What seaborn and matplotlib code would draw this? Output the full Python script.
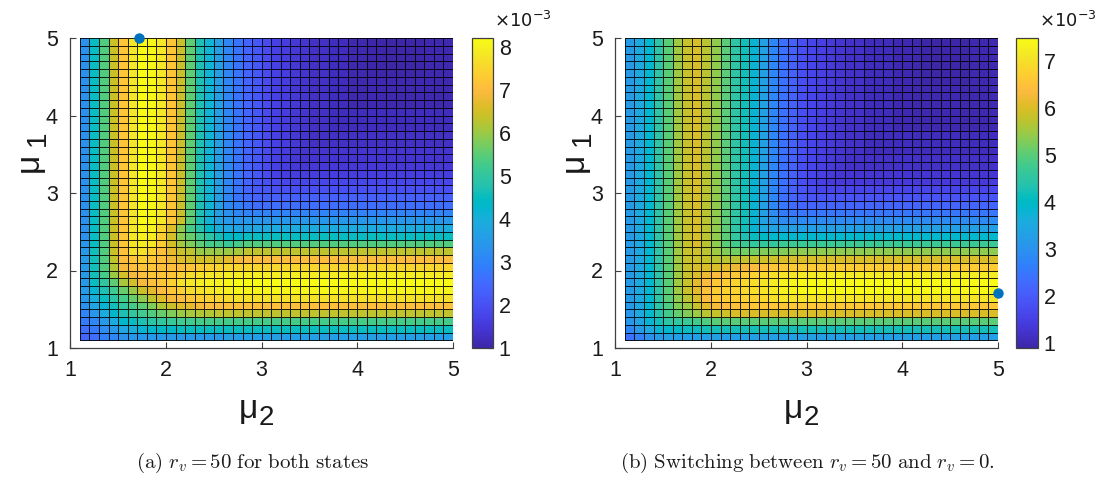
import numpy as np
import pandas as pd
import matplotlib
matplotlib.use("Agg")
import matplotlib.pyplot as plt
import seaborn as sns
from matplotlib.colors import LinearSegmentedColormap

# ---------------- data (values in units of 1e-4) ----------------
MU_START = 1.1          # first grid node of mu_1 / mu_2
MU_STEP = 0.1           # grid spacing
MU_TICKS = [1, 2, 3, 4, 5]
CBAR_TICKS_A = [1, 2, 3, 4, 5, 6, 7, 8]
CBAR_TICKS_B = [1, 2, 3, 4, 5, 6, 7]

# profile along mu_2 for large mu_1 (panel a)
G_TOP_A = [33, 45, 54, 64, 72, 78, 82, 81, 78, 72, 64, 55, 47, 41, 36, 31, 27, 24, 21, 19,
           17, 16, 15, 14, 13, 13, 12, 12, 11, 11, 10, 10, 10, 10, 10, 10, 11, 11, 11]

# rows: mu_1 = 1.1 (first) ... 4.9 (last); columns: mu_2 = 1.1 ... 4.9
A_ROWS = [
    [24, 26, 29, 31, 33, 34, 34, 35, 35, 35, 35, 35, 35, 35, 35, 36, 36, 36] + [36] * 21,
    [26, 28, 32, 35, 38, 40, 42, 43, 44, 44, 45, 45, 45, 45, 45, 45, 45, 45] + [45] * 21,
    [28, 31, 35, 39, 43, 45, 47, 49, 50, 51, 52, 52, 53, 53, 53, 53, 53, 53] + [53] * 21,
    [30, 34, 39, 43, 47, 50, 52, 54, 56, 58, 60, 61, 62, 62, 63, 63, 63, 63] + [63] * 21,
    [33, 38, 42, 46, 50, 53, 55, 58, 62, 64, 66, 67, 69, 70, 70, 71, 71, 71] + [71] * 21,
    [34, 40, 45, 49, 53, 56, 59, 63, 66, 69, 70, 72, 73, 74, 75, 76, 77, 77] + [77] * 21,
    [35, 42, 47, 52, 56, 60, 64, 67, 70, 72, 74, 76, 77, 78, 79, 80, 81, 81] + [81] * 21,
    [35, 45, 50, 55, 61, 65, 69, 71, 72, 74, 77, 78, 79, 80, 80, 81, 82, 82] + [82] * 21,
    [35, 46, 53, 60, 65, 69, 71, 72, 72, 72, 74, 76, 77, 78, 78, 79, 79, 79] + [79] * 21,
    [35, 46, 54, 62, 69, 71, 72, 72, 71, 71, 71, 72, 73, 74, 75, 75, 75, 75] + [75] * 21,
    [35, 46, 54, 63, 70, 72, 74, 72, 71, 68, 66, 65, 65, 65, 65, 67, 69, 70] + [70] * 21,
    [34, 46, 54, 64, 71, 77, 77, 74, 71, 67, 64, 63, 60, 60, 60, 60, 61, 63] + [63] * 21,
    [34, 45, 54, 64, 72, 78, 79, 78, 73, 65, 61, 58, 55, 53, 53, 51, 53, 54] + [54] * 21,
    [33, 45, 54, 64, 72, 78, 80, 79, 73, 65, 59, 56, 52, 49, 46, 44, 44, 45] + [45] * 21,
    [33, 45, 54, 64, 72, 78, 81, 80, 75, 66, 59, 53, 48, 44, 40, 38, 37, 37, 38, 39] + [39] * 19,
    G_TOP_A[:14] + [37, 35] + [34] * 23,
    G_TOP_A[:15] + [33, 31] + [30] * 22,
    G_TOP_A[:16] + [29, 27] + [26] * 21,
    G_TOP_A[:17] + [26, 24] + [23] * 20,
    G_TOP_A[:18] + [22, 21] + [20] * 19,
    G_TOP_A[:19] + [20, 19] + [18] * 18,
    G_TOP_A[:21] + [16] * 18,
    G_TOP_A[:22] + [15] * 17,
    G_TOP_A[:23] + [14] * 16,
    G_TOP_A[:23] + [14] * 16,
    G_TOP_A[:24] + [13] * 15,
    G_TOP_A[:24] + [13] * 15,
    G_TOP_A[:26] + [12] * 13,
    G_TOP_A[:26] + [12] * 13,
    G_TOP_A[:26] + [12] * 13,
    G_TOP_A[:28] + [11] * 11,
    G_TOP_A[:28] + [11] * 11,
    G_TOP_A[:28] + [11] * 11,
    G_TOP_A[:28] + [11] * 11,
    G_TOP_A[:],
    G_TOP_A[:],
    G_TOP_A[:],
    G_TOP_A[:],
    G_TOP_A[:],
]

# profile along mu_2 for large mu_1 (panel b)
G_TOP_B = [32, 35, 39, 45, 50, 55, 58, 60, 57, 54, 50, 45, 42, 38, 33, 28, 24, 21, 18, 16,
           15, 14, 13, 12, 12, 11, 11, 11, 10, 10, 10, 9, 9, 9, 9, 9, 10, 10, 10]

B_ROWS = [
    [24, 27, 30, 32] + [33] * 35,
    [28, 32, 35, 38, 39, 40, 41, 41] + [42] * 31,
    [31, 34, 38, 42, 45, 46, 47, 48, 49] + [50] * 30,
    [31, 35, 39, 44, 48, 51, 53, 55, 57, 58, 59] + [60] * 28,
    [32, 35, 39, 45, 49, 53, 55, 58, 61, 63, 64, 65, 65] + [66] * 26,
    [32, 35, 39, 45, 50, 54, 57, 60, 64, 66, 67, 67, 68, 68, 69, 70] + [71] * 23,
    [32, 35, 39, 45, 50, 55, 58, 61, 65, 67, 68, 68, 69, 70, 71, 72, 73, 74] + [75] * 21,
    [32, 35, 39, 45, 50, 55, 58, 61, 64, 66, 67, 68, 69, 70, 71, 72, 73, 74] + [75] * 21,
    [32, 35, 39, 45, 50, 55, 58, 60, 62, 64, 65, 66, 67, 68, 69, 70, 71, 71] + [72] * 21,
    [32, 35, 39, 45, 50, 55, 58, 60, 60, 60, 61, 62, 63, 64, 65, 66, 66, 67] + [67] * 21,
    [32, 35, 39, 45, 50, 55, 58, 59, 58, 57, 57, 57, 58, 58, 59, 59, 60, 60] + [60] * 21,
    [32, 35, 39, 45, 50, 55, 58, 59, 57, 55, 53, 52, 52, 52, 53, 53, 53, 54] + [54] * 21,
    [32, 35, 39, 45, 50, 55, 58, 60, 57, 54, 50, 48, 47, 46, 46, 46, 47, 47] + [47] * 21,
    [32, 35, 39, 45, 50, 55, 58, 60, 57, 54, 50, 46, 43, 41, 40, 39, 39, 39] + [39] * 21,
    [32, 35, 39, 45, 50, 55, 58, 60, 57, 54, 50, 45, 42, 38, 35, 34, 33, 33] + [33] * 21,
    G_TOP_B[:14] + [34, 31] + [29] * 23,
    G_TOP_B[:15] + [29, 26] + [25] * 22,
    G_TOP_B[:16] + [25, 23] + [22] * 21,
    G_TOP_B[:17] + [22, 20] + [19] * 20,
    G_TOP_B[:18] + [19, 17] + [16] * 19,
    G_TOP_B[:19] + [16, 15] + [14] * 18,
    G_TOP_B[:23] + [13] * 16,
    G_TOP_B[:25] + [12] * 14,
    G_TOP_B[:25] + [12] * 14,
    G_TOP_B[:28] + [11] * 11,
    G_TOP_B[:28] + [11] * 11,
    G_TOP_B[:28] + [11] * 11,
    G_TOP_B[:31] + [10] * 8,
    G_TOP_B[:31] + [10] * 8,
    G_TOP_B[:31] + [10] * 8,
    G_TOP_B[:31] + [10] * 8,
    G_TOP_B[:31] + [10] * 8,
    G_TOP_B[:31] + [10] * 8,
    G_TOP_B[:],
    G_TOP_B[:],
    G_TOP_B[:],
    G_TOP_B[:],
    G_TOP_B[:],
    G_TOP_B[:],
]

# marked optimum points (mu_2, mu_1)
DOT_A = (1.72, 5.0)
DOT_B = (5.0, 1.71)

CAPTION_A = r'$\mathrm{(a)}\ r_v = 50\ \mathrm{for\ both\ states}$'
CAPTION_B = r'$\mathrm{(b)\ Switching\ between}\ r_v = 50\ \mathrm{and}\ r_v = 0.$'

# ---------------- colormap (MATLAB parula, 64 entries) ----------------
PARULA = [
    (0.2422, 0.1504, 0.6603), (0.2504, 0.1650, 0.7076), (0.2578, 0.1818, 0.7511), (0.2647, 0.1978, 0.7952),
    (0.2706, 0.2147, 0.8364), (0.2751, 0.2342, 0.8710), (0.2783, 0.2559, 0.8991), (0.2803, 0.2782, 0.9221),
    (0.2813, 0.3006, 0.9414), (0.2810, 0.3228, 0.9579), (0.2795, 0.3447, 0.9717), (0.2760, 0.3667, 0.9829),
    (0.2699, 0.3892, 0.9906), (0.2602, 0.4123, 0.9952), (0.2440, 0.4358, 0.9988), (0.2206, 0.4603, 0.9973),
    (0.1963, 0.4847, 0.9892), (0.1834, 0.5074, 0.9798), (0.1786, 0.5289, 0.9682), (0.1764, 0.5499, 0.9520),
    (0.1687, 0.5703, 0.9359), (0.1540, 0.5902, 0.9218), (0.1460, 0.6091, 0.9079), (0.1380, 0.6276, 0.8973),
    (0.1248, 0.6459, 0.8883), (0.1113, 0.6635, 0.8763), (0.0952, 0.6798, 0.8598), (0.0689, 0.6948, 0.8394),
    (0.0297, 0.7082, 0.8163), (0.0036, 0.7203, 0.7917), (0.0067, 0.7312, 0.7660), (0.0433, 0.7411, 0.7394),
    (0.0964, 0.7500, 0.7120), (0.1408, 0.7584, 0.6842), (0.1717, 0.7670, 0.6554), (0.1938, 0.7758, 0.6251),
    (0.2161, 0.7843, 0.5923), (0.2470, 0.7918, 0.5567), (0.2906, 0.7973, 0.5188), (0.3406, 0.8008, 0.4789),
    (0.3909, 0.8029, 0.4354), (0.4456, 0.8024, 0.3909), (0.5044, 0.7993, 0.3480), (0.5616, 0.7942, 0.3045),
    (0.6174, 0.7876, 0.2612), (0.6720, 0.7793, 0.2227), (0.7242, 0.7698, 0.1910), (0.7738, 0.7598, 0.1646),
    (0.8203, 0.7498, 0.1535), (0.8634, 0.7406, 0.1596), (0.9035, 0.7330, 0.1774), (0.9393, 0.7288, 0.2100),
    (0.9728, 0.7298, 0.2394), (0.9956, 0.7434, 0.2371), (0.9970, 0.7659, 0.2199), (0.9952, 0.7893, 0.2028),
    (0.9892, 0.8136, 0.1885), (0.9786, 0.8386, 0.1766), (0.9676, 0.8639, 0.1643), (0.9610, 0.8890, 0.1537),
    (0.9597, 0.9135, 0.1423), (0.9628, 0.9373, 0.1265), (0.9691, 0.9606, 0.1064), (0.9769, 0.9839, 0.0805),
]
parula = LinearSegmentedColormap.from_list("parula", PARULA, N=256)

# ---------------- style ----------------
sns.set_style("white")
plt.rcParams['font.family'] = ['Liberation Sans', 'DejaVu Sans']

W, H = 1100, 479
fig = plt.figure(figsize=(W / 100, H / 100), dpi=100)


def box(x0, y0, x1, y1):
    return [x0 / W, 1 - y1 / H, (x1 - x0) / W, (y1 - y0) / H]


def to_idx(mu):
    return (np.asarray(mu, dtype=float) - MU_START) / MU_STEP


AXIS_COLOR = '0.25'


def panel(rows, ax_box, cax_box, cticks, dot, caption, cap_x, lab_x):
    ax = fig.add_axes(box(*ax_box))
    cax = fig.add_axes(box(*cax_box))
    Z = np.array(rows, dtype=float) / 10.0   # units of 1e-3
    df = pd.DataFrame(Z)
    sns.heatmap(df, ax=ax, cmap=parula, vmin=Z.min(), vmax=Z.max(), cbar_ax=cax,
                linewidths=0.7, linecolor=(0, 0, 0, 0.85),
                xticklabels=False, yticklabels=False)
    lo, hi = float(to_idx(MU_TICKS[0])), float(to_idx(MU_TICKS[-1]))
    ax.set_xlim(lo, hi)
    ax.set_ylim(lo, hi)
    ax.set_xticks(to_idx(MU_TICKS))
    ax.set_yticks(to_idx(MU_TICKS))
    ax.set_xticklabels([str(t) for t in MU_TICKS])
    ax.set_yticklabels([str(t) for t in MU_TICKS], rotation=0)
    for s in ['left', 'bottom']:
        ax.spines[s].set_visible(True)
        ax.spines[s].set_color(AXIS_COLOR)
        ax.spines[s].set_linewidth(0.9)
    for s in ['top', 'right']:
        ax.spines[s].set_visible(False)
    ax.tick_params(axis='both', direction='in', length=4, width=0.8, color=AXIS_COLOR,
                   labelsize=15.5, pad=9, labelcolor='0.1', bottom=True, left=True)
    ax.plot(to_idx([dot[0]]), to_idx([dot[1]]), 'o', color='#0072BD',
            markersize=6.5, clip_on=False, zorder=5)
    ax.set_xlabel('')
    ax.set_ylabel('')

    cb = ax.collections[0].colorbar
    cb.set_ticks(cticks)
    cb.ax.tick_params(direction='in', length=4, width=0.8, labelsize=15.5, color=AXIS_COLOR,
                      labelcolor='0.1', pad=4)
    cb.outline.set_edgecolor(AXIS_COLOR)
    cb.outline.set_linewidth(0.9)

    # colorbar exponent
    fig.text((cax_box[2] + 1) / W, 1 - 27 / H, r'$\times10^{-3}$', fontsize=13,
             color='0.1', va='baseline', ha='left', math_fontfamily='dejavusans')

    # axis labels (MATLAB-style mu with large subscript)
    fig.text(lab_x / W, 1 - 409 / H, 'μ', fontsize=24, ha='right', va='center', color='0.1')
    fig.text((lab_x + 1) / W, 1 - 418 / H, '2', fontsize=20, ha='left', va='center', color='0.1')
    fig.text((ax_box[0] - 41) / W, 1 - 162 / H, 'μ', fontsize=24, ha='center', va='center',
             rotation=90, color='0.1')
    fig.text((ax_box[0] - 32) / W, 1 - 138 / H, '1', fontsize=20, ha='center', va='center',
             rotation=90, color='0.1')

    fig.text(cap_x / W, 1 - 463 / H, caption, fontsize=15, ha='center', va='center',
             math_fontfamily='cm', color='0.1')
    return ax


panel(A_ROWS, (70.3, 38, 453, 348), (471.7, 38, 493.3, 348), CBAR_TICKS_A, DOT_A,
      CAPTION_A, 253, 258)
panel(B_ROWS, (615.3, 38, 998, 348), (1016, 38, 1038.3, 348), CBAR_TICKS_B, DOT_B,
      CAPTION_B, 807, 803)

fig.savefig('out.png', dpi=100)
